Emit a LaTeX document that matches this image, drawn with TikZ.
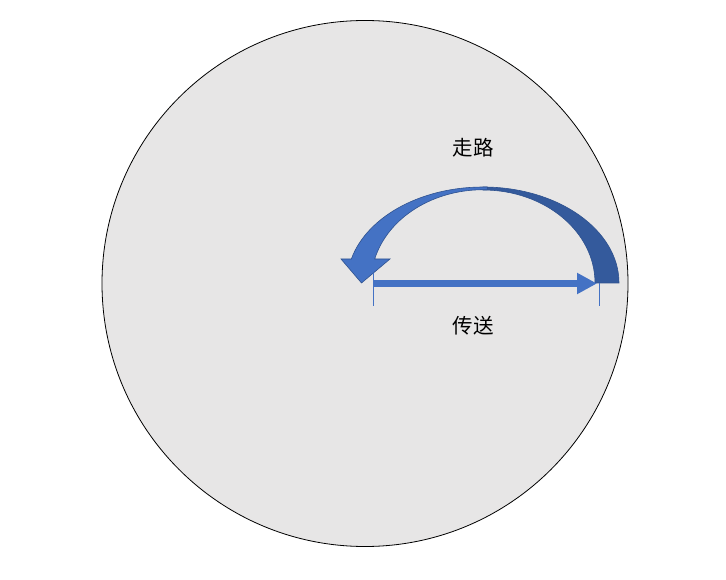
\documentclass[tikz,border=0pt]{standalone}
\usepackage{fontspec}
\newfontfamily\cjk{Noto Sans CJK SC}
\usetikzlibrary{arrows.meta}
\definecolor{bgfill}{HTML}{E7E6E6}
\definecolor{accent}{HTML}{4472C4}
\definecolor{accentdark}{HTML}{345A9C}
\definecolor{accentline}{HTML}{2F528F}
\tikzset{
  disc/.style={circle, draw=black, line width=0.8pt, fill=bgfill, minimum size=526pt, inner sep=0pt},
  label/.style={font=\cjk\fontsize{20.5}{24}\selectfont, inner sep=0pt},
  bandlight/.style={fill=accent, draw=accentline, line width=0.6pt, line join=miter},
  banddark/.style={fill=accentdark, draw=accentline, line width=0.6pt},
  transfer/.style={draw=accent, line width=7pt, -{Triangle[length=20pt,width=20pt]}, shorten >=0pt},
  tick/.style={draw=accent, line width=1pt}
}
\begin{document}
\begin{tikzpicture}[x=1pt,y=1pt]
\useasboundingbox (0,0) rectangle (726,579);
\node[disc] (world) at (365,295.5) {};
% curved arrow (walk): back part (dark)
\path[banddark] (619,296) arc[start angle=0, end angle=90, x radius=136, y radius=96]
  -- (483,389) arc[start angle=90, end angle=0, x radius=112, y radius=93] -- cycle;
% front part with head
\path[bandlight] (351.3,320) -- (341,320) -- (361.5,296) -- (390,320) -- (374.7,320)
  arc[start angle=165.2, end angle=88, x radius=112, y radius=93]
  -- (487.75,391.94)
  arc[start angle=88, end angle=165.52, x radius=136, y radius=96] -- cycle;
% transfer arrow
\coordinate (a) at (373.7,295.5);
\coordinate (b) at (597,295.5);
\draw[transfer] (a) -- (b);
\coordinate (at) at (373.7,306);
\coordinate (ab) at (373.7,273);
\coordinate (bt) at (599.3,296);
\coordinate (bb) at (599.3,273);
\draw[tick] (at) -- (ab);
\draw[tick] (bt) -- (bb);
\node[label] (walk) at (473,431.5) {走路};
\node[label] (send) at (473,253.5) {传送};
\end{tikzpicture}
\end{document}
